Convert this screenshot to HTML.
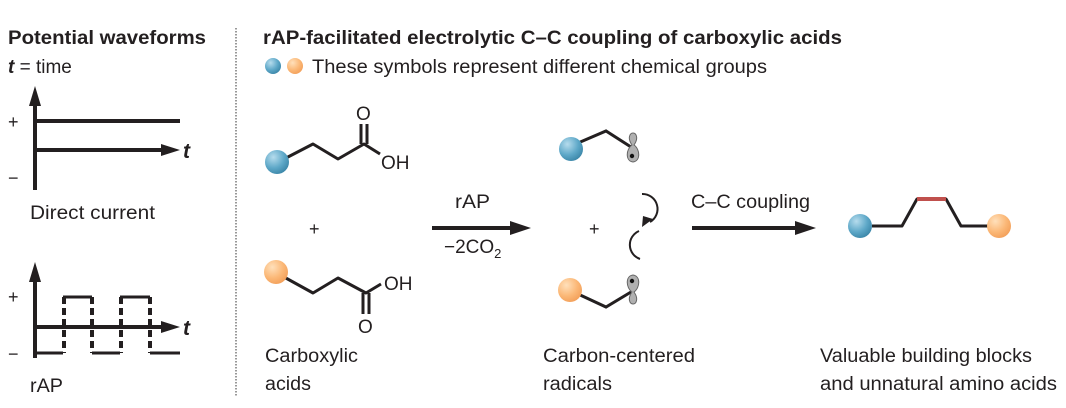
<!DOCTYPE html>
<html><head><meta charset="utf-8"><style>
html,body{margin:0;padding:0;background:#fff;}
svg{display:block;}
text{font-family:"Liberation Sans",sans-serif;fill:#231f20;}
</style></head><body>
<svg width="1066" height="408" viewBox="0 0 1066 408" xmlns="http://www.w3.org/2000/svg">
<defs>
<radialGradient id="gb" cx="0.35" cy="0.3" r="0.75"><stop offset="0" stop-color="#b6dced"/><stop offset="0.6" stop-color="#5ea8c8"/><stop offset="1" stop-color="#3b86a8"/></radialGradient>
<radialGradient id="go" cx="0.35" cy="0.3" r="0.75"><stop offset="0" stop-color="#ffe0bb"/><stop offset="0.6" stop-color="#fbb877"/><stop offset="1" stop-color="#f3a05a"/></radialGradient>
</defs>
<!-- headings -->
<text x="8" y="44" font-size="19" font-weight="bold" textLength="198" lengthAdjust="spacingAndGlyphs">Potential waveforms</text>
<text x="8" y="73" font-size="19"><tspan font-weight="bold" font-style="italic">t</tspan> = time</text>
<text x="263" y="44" font-size="19" font-weight="bold" textLength="579" lengthAdjust="spacingAndGlyphs">rAP-facilitated electrolytic C–C coupling of carboxylic acids</text>
<circle cx="273" cy="66" r="8" fill="url(#gb)"/><circle cx="295" cy="66" r="8" fill="url(#go)"/>
<text x="312" y="73" font-size="19" textLength="455" lengthAdjust="spacingAndGlyphs">These symbols represent different chemical groups</text>
<line x1="236" y1="28" x2="236" y2="396" stroke="#555" stroke-width="1.2" stroke-dasharray="1.5,1.5"/>
<!-- DC -->
<g stroke="#231f20" stroke-width="4" fill="none">
<line x1="35" y1="190" x2="35" y2="100"/>
<line x1="35" y1="121" x2="180" y2="121"/>
<line x1="35" y1="150" x2="165" y2="150"/>
<line x1="35" y1="358" x2="35" y2="274"/>
<line x1="35" y1="327" x2="165" y2="327"/>
<path d="M35,353 H63 M63,297 H92 M92,353 H120 M120,297 H150 M150,353 H180" stroke-width="3"/>
<path d="M64,297 V353 M92,297 V353 M121,297 V353 M150,297 V353" stroke-dasharray="7,4"/>
</g>
<path d="M35,86 L29,106 L41,106z" fill="#231f20"/>
<path d="M180,150 L161,144 L161,156z" fill="#231f20"/>
<path d="M35,262 L29,282 L41,282z" fill="#231f20"/>
<path d="M180,327 L161,321 L161,333z" fill="#231f20"/>
<text x="183" y="158" font-size="21" font-weight="bold" font-style="italic">t</text>
<text x="183" y="335" font-size="21" font-weight="bold" font-style="italic">t</text>
<text x="8" y="128" font-size="18">+</text><text x="8" y="184" font-size="18">−</text>
<text x="8" y="303" font-size="18">+</text><text x="8" y="360" font-size="18">−</text>
<text x="30" y="219" font-size="19" textLength="125" lengthAdjust="spacingAndGlyphs">Direct current</text>
<text x="30" y="392" font-size="19" textLength="33" lengthAdjust="spacingAndGlyphs">rAP</text>
<!-- carboxylic acids -->
<g stroke="#231f20" stroke-width="3" fill="none" stroke-linejoin="round">
<polyline points="286,158 313,144 338,159 364,144 380,154"/>
<line x1="361" y1="144" x2="361" y2="124"/><line x1="367" y1="144" x2="367" y2="124"/>
<polyline points="284,277 313,293 338,278 366,293 381,284"/>
<line x1="363" y1="293" x2="363" y2="314"/><line x1="369" y1="293" x2="369" y2="314"/>
</g>
<circle cx="277" cy="162" r="12" fill="url(#gb)"/>
<circle cx="276" cy="272" r="12" fill="url(#go)"/>
<text x="356" y="120" font-size="19">O</text>
<text x="381" y="169" font-size="19">OH</text>
<text x="384" y="290" font-size="19">OH</text>
<text x="358" y="333" font-size="19">O</text>
<text x="309" y="235" font-size="18">+</text>
<!-- arrow rAP -->
<line x1="432" y1="228" x2="515" y2="228" stroke="#231f20" stroke-width="4"/>
<path d="M531,228 L510,221 L510,235z" fill="#231f20"/>
<text x="455" y="208" font-size="19" textLength="35" lengthAdjust="spacingAndGlyphs">rAP</text>
<text x="444" y="253" font-size="19">−2CO<tspan font-size="13" dy="5">2</tspan></text>
<!-- radicals -->
<g stroke="#231f20" stroke-width="3" fill="none">
<polyline points="578,143 606,131 631,147"/>
<polyline points="578,294 606,307 631,292"/>
<path d="M642,194 A15,15 0 0 1 650,222" stroke-width="2"/>
<path d="M640,259 A15,15 0 0 1 639,231" stroke-width="2"/>
</g>
<path d="M653,219 L642,227 L643,216z" fill="#231f20"/>
<path d="M632,145 c-5,-7 -2,-12 1,-12 c3,0 6,5 1,12 c6,4 7,16 -1,17 c-8,-1 -7,-13 -1,-17z" fill="#b0b0b0" stroke="#666" stroke-width="1"/>
<circle cx="632" cy="156" r="2.2" fill="#111"/>
<path d="M632,292 c-5,7 -2,12 1,12 c3,0 6,-5 1,-12 c6,-4 7,-16 -1,-17 c-8,1 -7,13 -1,17z" fill="#b0b0b0" stroke="#666" stroke-width="1"/>
<circle cx="632" cy="281" r="2.2" fill="#111"/>
<circle cx="571" cy="149" r="12" fill="url(#gb)"/>
<circle cx="570" cy="290" r="12" fill="url(#go)"/>
<text x="589" y="235" font-size="18">+</text>
<!-- C-C arrow -->
<line x1="692" y1="228" x2="800" y2="228" stroke="#231f20" stroke-width="4"/>
<path d="M816,228 L795,221 L795,235z" fill="#231f20"/>
<text x="691" y="208" font-size="19" textLength="119" lengthAdjust="spacingAndGlyphs">C–C coupling</text>
<!-- product -->
<polyline points="872,226 902,226 917,199 946,199 961,226 990,226" stroke="#231f20" stroke-width="3" fill="none" stroke-linejoin="round"/>
<line x1="917" y1="199" x2="946" y2="199" stroke="#c0504d" stroke-width="4"/>
<circle cx="860" cy="226" r="12" fill="url(#gb)"/>
<circle cx="999" cy="226" r="12" fill="url(#go)"/>
<!-- labels -->
<text x="265" y="362" font-size="19" textLength="93" lengthAdjust="spacingAndGlyphs">Carboxylic</text>
<text x="265" y="390" font-size="19" textLength="46" lengthAdjust="spacingAndGlyphs">acids</text>
<text x="543" y="362" font-size="19" textLength="152" lengthAdjust="spacingAndGlyphs">Carbon-centered</text>
<text x="543" y="390" font-size="19" textLength="69" lengthAdjust="spacingAndGlyphs">radicals</text>
<text x="820" y="362" font-size="19" textLength="212" lengthAdjust="spacingAndGlyphs">Valuable building blocks</text>
<text x="820" y="390" font-size="19" textLength="237" lengthAdjust="spacingAndGlyphs">and unnatural amino acids</text>
</svg>
</body></html>
